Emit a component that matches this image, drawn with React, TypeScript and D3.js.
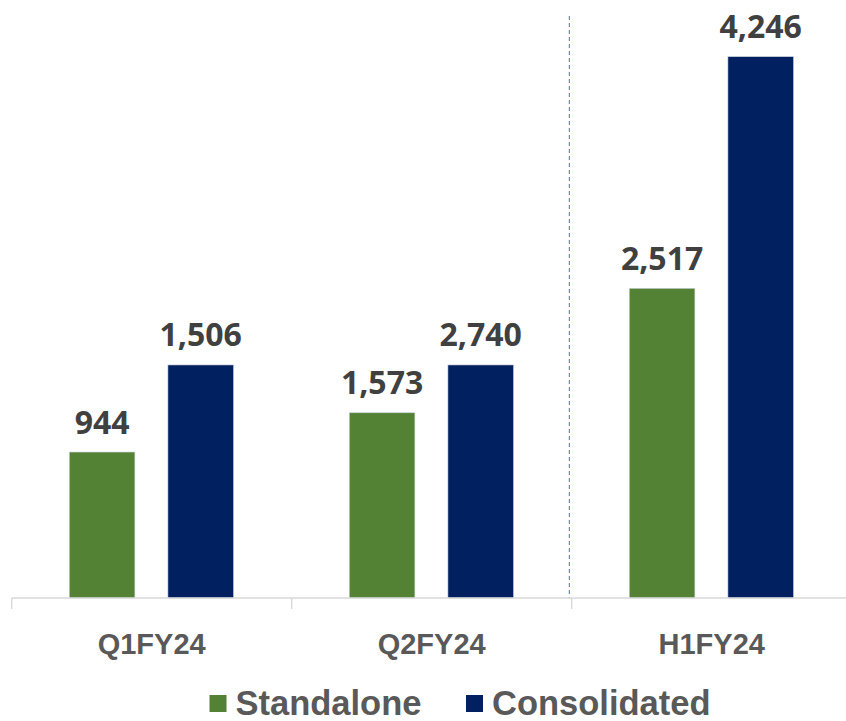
import React from "react";
import * as d3 from "d3";

// Categories and series
const categories = ["Q1FY24", "Q2FY24", "H1FY24"];
const seriesNames = ["Standalone", "Consolidated"];
// Printed data labels
const standaloneLabels = [944, 1573, 2517];
const consolidatedLabels = [1506, 2740, 4246];
// Bar lengths as drawn in the source (its bars are not to scale with the labels),
// read off the picture in the same units as the H1FY24 consolidated bar
const standaloneBars = [1145, 1453, 2429];
const consolidatedBars = [1828, 1828, 4246];

const colors = ["#548235", "#002060"];

const W = 846;
const H = 721;
const baseY = 598;
const topY = 56.7;
const axisLeft = 11.7;
const catStep = 280;

export default function App() {
  const x0 = d3
    .scaleBand<string>()
    .domain(categories)
    .range([axisLeft, axisLeft + catStep * categories.length])
    .padding(0);
  const x1 = d3
    .scaleBand<string>()
    .domain(seriesNames)
    .range([57.6, 221.8])
    .paddingInner(0.335)
    .paddingOuter(0);
  const y = d3.scaleLinear().domain([0, 4246]).range([baseY, topY]);
  const fmt = d3.format(",");

  const bars = [standaloneBars, consolidatedBars];
  const labels = [standaloneLabels, consolidatedLabels];

  const splitX = (x0(categories[2]) as number) - 2.4;

  return (
    <svg
      width={W}
      height={H}
      style={{ position: "absolute", left: 0, top: 0, background: "#fff" }}
    >
      <rect width={W} height={H} fill="#fff" />
      {/* dashed separator */}
      <line
        x1={splitX}
        x2={splitX}
        y1={16}
        y2={baseY}
        stroke="#4472C4"
        strokeWidth={1}
        strokeDasharray="4,3"
      />
      {/* bars */}
      {categories.map((c, i) =>
        seriesNames.map((s, j) => {
          const bx = (x0(c) as number) + (x1(s) as number);
          const bw = x1.bandwidth();
          const v = bars[j][i];
          const ty = y(v);
          return (
            <g key={c + s}>
              <rect
                x={bx}
                y={ty}
                width={bw}
                height={baseY - ty}
                fill={colors[j]}
                stroke="#c9cfd9"
                strokeWidth={0.6}
              />
              <text
                x={bx + bw / 2}
                y={ty - 18.5}
                textAnchor="middle"
                fontFamily="'Open Sans', sans-serif"
                fontWeight={700}
                fontSize={32}
                fill="#404040"
              >
                {fmt(labels[j][i])}
              </text>
            </g>
          );
        })
      )}
      {/* axis */}
      <line
        x1={axisLeft}
        x2={W}
        y1={baseY}
        y2={baseY}
        stroke="#d9d9d9"
        strokeWidth={1.4}
      />
      {d3.range(categories.length + 1).map((k) => {
        const tx = axisLeft + k * catStep;
        return (
          <line
            key={"t" + k}
            x1={tx}
            x2={tx}
            y1={baseY}
            y2={609}
            stroke="#d9d9d9"
            strokeWidth={1.4}
          />
        );
      })}
      {categories.map((c) => (
        <text
          key={"l" + c}
          x={(x0(c) as number) + x0.bandwidth() / 2}
          y={654}
          textAnchor="middle"
          fontFamily="'Liberation Sans', Arial, sans-serif"
          fontWeight={700}
          fontSize={29}
          fill="#595959"
        >
          {c}
        </text>
      ))}
      {/* legend */}
      {seriesNames.map((s, j) => {
        const lx = [209.5, 466][j];
        return (
          <g key={"lg" + s}>
            <rect x={lx} y={695} width={17} height={17} fill={colors[j]} />
            <text
              x={lx + 26}
              y={714.5}
              fontFamily="'Liberation Sans', Arial, sans-serif"
              fontWeight={700}
              fontSize={34.5}
              fill="#595959"
            >
              {s}
            </text>
          </g>
        );
      })}
    </svg>
  );
}
